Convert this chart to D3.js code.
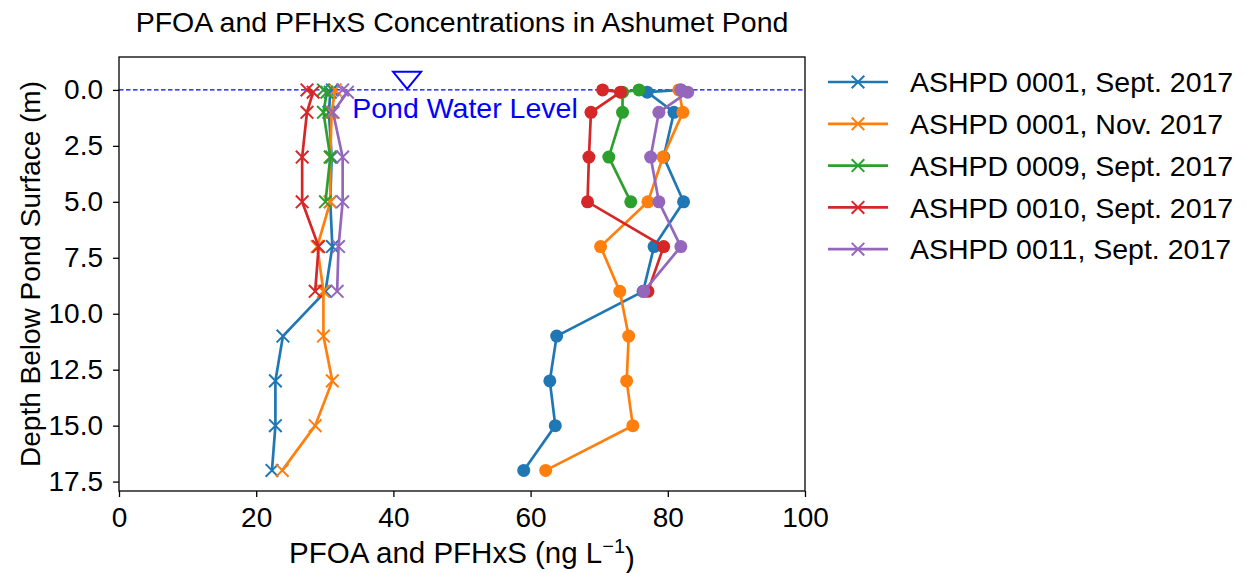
<!DOCTYPE html>
<html>
<head>
<meta charset="utf-8">
<script src="https://cdn.jsdelivr.net/npm/d3@7"></script>
<style>
  body { margin: 0; background: #fff; }
  text { font-family: Arial, "Liberation Sans", sans-serif; fill: #000; }
</style>
</head>
<body>
<svg id="chart" width="1247" height="573"></svg>
<script>
// profondeurs (m) de chaque profil
const depthBlue   = [0, 0.1, 1, 3, 5, 7, 9, 11, 13, 15, 17];
const depthOrange = [0, 1, 3, 5, 7, 9, 11, 13, 15, 17];
const depthGreen  = [0, 0.1, 1, 3, 5];
const depthRed    = [0, 0.1, 1, 3, 5, 7, 9];
const depthPurple = [0, 0.1, 1, 3, 5, 7, 9];

// PFOA (marqueurs x)
const pfoaBlue   = [31.1, 30.8, 30.6, 31.0, 30.8, 31.1, 30.1, 23.9, 22.8, 22.8, 22.3];
const pfoaOrange = [31.5, 31.0, 30.8, 30.8, 28.9, 29.8, 29.8, 31.1, 28.6, 23.8];
const pfoaGreen  = [29.8, 30.3, 29.8, 30.8, 30.1];
const pfoaRed    = [27.4, 28.3, 27.4, 26.7, 26.7, 29.1, 28.6];
const pfoaPurple = [32.6, 33.3, 31.2, 32.6, 32.6, 32.0, 31.8];

// PFHxS (marqueurs ronds)
const pfhxsBlue   = [81.9, 77.0, 80.9, 79.4, 82.3, 78.0, 76.4, 63.8, 62.8, 63.6, 59.0];
const pfhxsOrange = [81.6, 82.2, 79.3, 77.1, 70.2, 73.0, 74.3, 74.0, 74.9, 62.2];
const pfhxsGreen  = [75.8, 73.4, 73.4, 71.4, 74.6];
const pfhxsRed    = [70.5, 73.1, 68.8, 68.5, 68.3, 79.4, 77.1];
const pfhxsPurple = [81.9, 82.9, 78.7, 77.5, 78.7, 81.9, 76.5];

const seriesNames = ["ASHPD 0001, Sept. 2017", "ASHPD 0001, Nov. 2017", "ASHPD 0009, Sept. 2017",
                     "ASHPD 0010, Sept. 2017", "ASHPD 0011, Sept. 2017"];
const colors = ["#1f77b4", "#ff7f0e", "#2ca02c", "#d62728", "#9467bd"];
const xTicks = [0, 20, 40, 60, 80, 100];
const yTicks = [0, 2.5, 5, 7.5, 10, 12.5, 15, 17.5];
const pondLevel = 0;
const pondMarker = { x: 42, y: -0.45 };

const depths = [depthBlue, depthOrange, depthGreen, depthRed, depthPurple];
const pfoa = [pfoaBlue, pfoaOrange, pfoaGreen, pfoaRed, pfoaPurple];
const pfhxs = [pfhxsBlue, pfhxsOrange, pfhxsGreen, pfhxsRed, pfhxsPurple];

const svg = d3.select("#chart");
const pLeft = 119, pRight = 805, pTop = 57, pBottom = 491;

const x = d3.scaleLinear().domain([0, 100]).range([pLeft, pRight]);
const y = d3.scaleLinear().domain([-1.47, 17.92]).range([pTop, pBottom]);

const line = d3.line().x(d => x(d.v)).y(d => y(d.d));

// ligne du niveau de l'eau
svg.append("line")
  .attr("x1", pLeft).attr("x2", pRight)
  .attr("y1", y(pondLevel)).attr("y2", y(pondLevel))
  .attr("stroke", "blue").attr("stroke-width", 1.4)
  .attr("stroke-dasharray", "4.5,2.5");

const plot = svg.append("g");

function xMark(g, px, py, s, color) {
  g.append("path")
    .attr("d", `M${px - s},${py - s}L${px + s},${py + s}M${px - s},${py + s}L${px + s},${py - s}`)
    .attr("stroke", color).attr("stroke-width", 2).attr("fill", "none");
}

seriesNames.forEach((name, i) => {
  const a = depths[i].map((d, k) => ({ d: d, v: pfoa[i][k] }));
  const b = depths[i].map((d, k) => ({ d: d, v: pfhxs[i][k] }));
  plot.append("path").datum(a).attr("d", line)
    .attr("stroke", colors[i]).attr("stroke-width", 2.7).attr("fill", "none");
  a.forEach(p => xMark(plot, x(p.v), y(p.d), 6.3, colors[i]));
  plot.append("path").datum(b).attr("d", line)
    .attr("stroke", colors[i]).attr("stroke-width", 2.7).attr("fill", "none");
  plot.selectAll(null).data(b).enter().append("circle")
    .attr("cx", p => x(p.v)).attr("cy", p => y(p.d)).attr("r", 6.5)
    .attr("fill", colors[i]);
});

// marqueur triangle du niveau
const tx = x(pondMarker.x), ty = y(pondMarker.y);
svg.append("path")
  .attr("d", `M${tx - 14},${ty - 8}L${tx + 14},${ty - 8}L${tx},${ty + 9}Z`)
  .attr("fill", "none").attr("stroke", "blue").attr("stroke-width", 2);

svg.append("text")
  .attr("x", x(34)).attr("y", y(0.8))
  .attr("dy", "0.35em")
  .style("font-size", "28.5px").style("fill", "blue")
  .text("Pond Water Level");

// cadre
svg.append("rect")
  .attr("x", pLeft).attr("y", pTop)
  .attr("width", pRight - pLeft).attr("height", pBottom - pTop)
  .attr("fill", "none").attr("stroke", "#000").attr("stroke-width", 1.3);

// axes
const xAxis = svg.append("g")
  .attr("transform", `translate(0,${pBottom})`)
  .call(d3.axisBottom(x).tickValues(xTicks).tickSize(6).tickPadding(10).tickFormat(d3.format("d")));
const yAxis = svg.append("g")
  .attr("transform", `translate(${pLeft},0)`)
  .call(d3.axisLeft(y).tickValues(yTicks).tickSize(6).tickPadding(10).tickFormat(d3.format(".1f")));
[xAxis, yAxis].forEach(g => {
  g.select(".domain").remove();
  g.selectAll("line").attr("stroke", "#000").attr("stroke-width", 1.3);
  g.selectAll("text").style("font-size", "28px")
    .style("font-family", "Arial, 'Liberation Sans', sans-serif");
});

// titres
svg.append("text")
  .attr("x", (pLeft + pRight) / 2).attr("y", 32)
  .attr("text-anchor", "middle").style("font-size", "28.5px")
  .text("PFOA and PFHxS Concentrations in Ashumet Pond");

const xl = svg.append("text")
  .attr("x", (pLeft + pRight) / 2).attr("y", 563)
  .attr("text-anchor", "middle").style("font-size", "29.5px");
xl.append("tspan").text("PFOA and PFHxS (ng L");
xl.append("tspan").attr("dy", "-0.5em").style("font-size", "20px").text("\u22121");
xl.append("tspan").attr("dy", "0.5em").text(")");

svg.append("text")
  .attr("transform", `translate(40,${(pTop + pBottom) / 2}) rotate(-90)`)
  .attr("text-anchor", "middle").style("font-size", "28px")
  .text("Depth Below Pond Surface (m)");

// légende
const legend = svg.append("g");
seriesNames.forEach((name, i) => {
  const ly = 82 + i * 41.8;
  legend.append("line")
    .attr("x1", 828).attr("x2", 888).attr("y1", ly).attr("y2", ly)
    .attr("stroke", colors[i]).attr("stroke-width", 2.7);
  xMark(legend, 858, ly, 6.3, colors[i]);
  legend.append("text")
    .attr("x", 910).attr("y", ly).attr("dy", "0.36em")
    .style("font-size", "28.5px")
    .text(name);
});
</script>
</body>
</html>
